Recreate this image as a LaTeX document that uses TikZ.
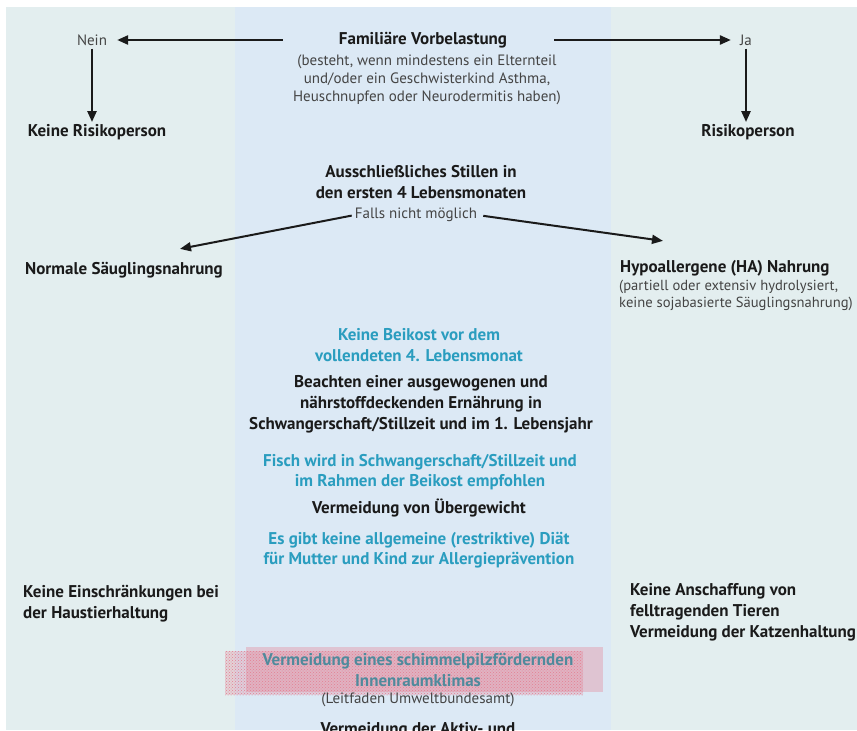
\documentclass[tikz,border=0pt]{standalone}
\usepackage{fontspec}
\setmainfont{PT Sans}
\usepackage{tikz}
\usetikzlibrary{arrows.meta,positioning,patterns}
\definecolor{paper}    {HTML}{FFFFFF}
\definecolor{outerbg}  {HTML}{E3EEEF}
\definecolor{bandbg}   {HTML}{DCE9F5}
\definecolor{ink}      {HTML}{1A1A1A}
\definecolor{greytxt}  {HTML}{444444}
\definecolor{hintteal} {HTML}{2A9DBF}
\definecolor{dimteal}  {HTML}{4F8A9C}
\definecolor{markred}  {HTML}{E57F92}
\tikzset{
  headtxt/.style ={text=ink, font=\fontsize{17}{20.8}\selectfont\bfseries,
                   align=center, inner sep=0pt},
  hinttxt/.style ={text=hintteal, font=\fontsize{17}{20.3}\selectfont\bfseries,
                   align=center, inner sep=0pt},
  notetxt/.style ={text=greytxt, font=\fontsize{15}{18}\selectfont,
                   align=center, inner sep=0pt},
  flowarr/.style ={-{Triangle[length=11pt,width=9pt]}, line width=2.4pt, draw=ink},
}

\begin{document}
\begin{tikzpicture}[x=1pt,y=-1pt]
        \useasboundingbox (0,0) rectangle (857,731);
        \clip (0,0) rectangle (857,731);
        \fill[paper] (0,0) rectangle (857,731);
        \fill[outerbg] (6,7) rectangle (857,730);
        \fill[bandbg] (235,7) rectangle (611,730);
        \fill[markred,fill opacity=0.25] (225,651) rectangle (583,695);
        \fill[pattern=crosshatch dots,pattern color=markred] (225,651) rectangle (583,695);
        \fill[markred,fill opacity=0.35] (246,647) rectangle (603,692);

        \node[headtxt] (fam) at (423,40) {Familiäre Vorbelastung};
        \node[notetxt] (famnote) at (427,80)
          {(besteht, wenn mindestens ein Elternteil\\und/oder ein Geschwisterkind Asthma,\\Heuschnupfen oder Neurodermitis haben)};
        \node[notetxt] (nein) at (92,40) {Nein};
        \node[notetxt] (ja) at (746,40) {Ja};
        \node[headtxt] (keinrisk) at (97,132) {Keine Risikoperson};
        \node[headtxt] (risk) at (748,132) {Risikoperson};

        \node[headtxt] (stillen) at (421,182) {Ausschließliches Stillen in\\den ersten 4 Lebensmonaten};
        \node[notetxt] (falls) at (416,215) {Falls nicht möglich};
        \node[headtxt,anchor=west] (normal) at (25,270) {Normale Säuglingsnahrung};
        \node[headtxt,anchor=west] (hypo) at (620,268) {Hypoallergene (HA) Nahrung};
        \node[notetxt,anchor=west,align=left,font=\fontsize{14.6}{17.5}\selectfont] (hyponote) at (619,295.5)
          {(partiell oder extensiv hydrolysiert,\\keine sojabasierte Säuglingsnahrung)};

        \node[hinttxt] (beikost) at (419,345) {Keine Beikost vor dem\\vollendeten 4. Lebensmonat};
        \node[headtxt] (beachten) at (421,404)
          {Beachten einer ausgewogenen und\\nährstoffdeckenden Ernährung in\\Schwangerschaft/Stillzeit und im 1. Lebensjahr};
        \node[hinttxt] (fisch) at (420,472) {Fisch wird in Schwangerschaft/Stillzeit und\\im Rahmen der Beikost empfohlen};
        \node[headtxt] (gewicht) at (419,508) {Vermeidung von Übergewicht};
        \node[hinttxt] (diaet) at (419,550) {Es gibt keine allgemeine (restriktive) Diät\\für Mutter und Kind zur Allergieprävention};
        \node[headtxt,anchor=west,align=left] (haustier) at (23,604) {Keine Einschränkungen bei\\der Haustierhaltung};
        \node[headtxt,anchor=west,align=left] (katze) at (630,612)
          {Keine Anschaffung von\\felltragenden Tieren\\Vermeidung der Katzenhaltung};
        \node[hinttxt,text=dimteal] (schimmel) at (418,670) {Vermeidung eines schimmelpilzfördernden\\Innenraumklimas};
        \node[notetxt] (leitfaden) at (418,700) {(Leitfaden Umweltbundesamt)};
        \node[headtxt] (rauch) at (418,730) {Vermeidung der Aktiv- und};

        \draw[flowarr,shorten <=56pt,shorten >=10pt] (fam.west) -- (nein.east);
        \draw[flowarr,shorten <=47pt,shorten >=9pt] (fam.east) -- (ja.west);
        \draw[flowarr,shorten <=3pt,shorten >=2pt] (nein.south) -- (nein.south |- keinrisk.north);
        \draw[flowarr,shorten <=3pt,shorten >=2pt] (ja.south) -- (ja.south |- risk.north);
        \draw[flowarr,line width=2pt,shorten <=3pt] (falls.west) -- ([xshift=56pt,yshift=13pt]normal.north);
        \draw[flowarr,line width=2pt,shorten <=6pt] (falls.east) -- ([xshift=43pt,yshift=19pt]hypo.north west);
      \end{tikzpicture}
\end{document}
